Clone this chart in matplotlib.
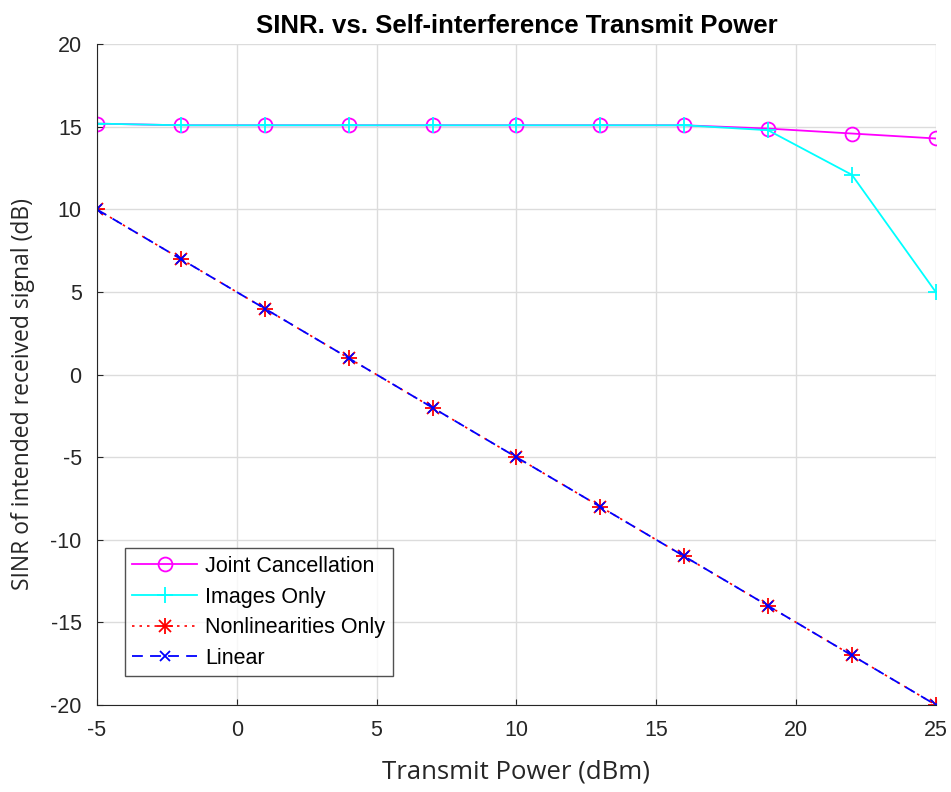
import matplotlib
matplotlib.use("Agg")
import matplotlib.pyplot as plt
from matplotlib.legend_handler import HandlerTuple

plt.rcParams['font.family'] = ['Liberation Sans', 'DejaVu Sans']
plt.rcParams['axes.unicode_minus'] = False

power = [-5, -2, 1, 4, 7, 10, 13, 16, 19, 22, 25]
joint = [15.2, 15.1, 15.1, 15.1, 15.1, 15.1, 15.1, 15.1, 14.9, 14.6, 14.3]
images = [15.2, 15.1, 15.1, 15.1, 15.1, 15.1, 15.1, 15.1, 14.8, 12.1, 5.0]
nonlin = [10, 7, 4, 1, -2, -5, -8, -11, -14, -17, -20]
linear = [10, 7, 4, 1, -2, -5, -8, -11, -14, -17, -20]

fig = plt.figure(figsize=(9.51, 7.92), dpi=100)
ax = fig.add_axes([0.102, 0.110, 0.882, 0.834])

h1, = ax.plot(power, joint, color='#ff00ff', marker='o', markersize=10, markerfacecolor='none',
              markeredgewidth=1.3, linewidth=1.3, label='Joint Cancellation')
h2, = ax.plot(power, images, color='#00ffff', marker='+', markersize=12, markeredgewidth=1.3,
              linewidth=1.3, label='Images Only')
h3a, = ax.plot(power, nonlin, color='#ff0000', linestyle=(0, (1.5, 3)), linewidth=1.2)
h3b, = ax.plot(power, nonlin, color='#ff0000', linestyle='none', marker='+', markersize=12,
               markeredgewidth=1.3)
h3c, = ax.plot(power, nonlin, color='#ff0000', linestyle='none', marker='x', markersize=8.5,
               markeredgewidth=1.3)
h4, = ax.plot(power, linear, color='#0000ff', linestyle=(0, (6, 4)), marker='x', markersize=7,
              markeredgewidth=1.3, linewidth=1.3, label='Linear')

ax.set_xlim(-5, 25)
ax.set_ylim(-20, 20)
ax.set_xticks(range(-5, 26, 5))
ax.set_yticks(range(-20, 21, 5))
ax.grid(True, color='#dcdcdc', linewidth=1)
ax.set_axisbelow(True)
for s in ['top', 'right']:
    ax.spines[s].set_visible(False)
for s in ['left', 'bottom']:
    ax.spines[s].set_color('#262626')
ax.tick_params(labelsize=15.5, colors='#262626', direction='in', length=4)
ax.tick_params(axis='y', pad=11)
ax.tick_params(axis='x', pad=11)

ax.set_title('SINR. vs. Self-interference Transmit Power', fontsize=18.5, fontweight='bold', pad=8)
ax.set_xlabel('Transmit Power (dBm)', fontsize=18.5, color='#262626', family=['Open Sans', 'DejaVu Sans'],
              labelpad=13)
ax.set_ylabel('SINR of intended received signal (dB)', fontsize=16.5, color='#262626',
              family=['Open Sans', 'DejaVu Sans'])
ax.yaxis.set_label_coords(-0.074, 0.47)

leg = ax.legend([h1, h2, (h3a, h3b, h3c), h4],
                ['Joint Cancellation', 'Images Only', 'Nonlinearities Only', 'Linear'],
                handler_map={tuple: HandlerTuple(ndivide=1, pad=0)},
                loc='lower left', bbox_to_anchor=(0.033, 0.043), fontsize=15.5, frameon=True,
                fancybox=False, edgecolor='#262626', handlelength=3.0, borderpad=0.35,
                labelspacing=0.45, handletextpad=0.4, borderaxespad=0)
leg.get_frame().set_linewidth(1.0)

fig.savefig('out.png', dpi=100)
